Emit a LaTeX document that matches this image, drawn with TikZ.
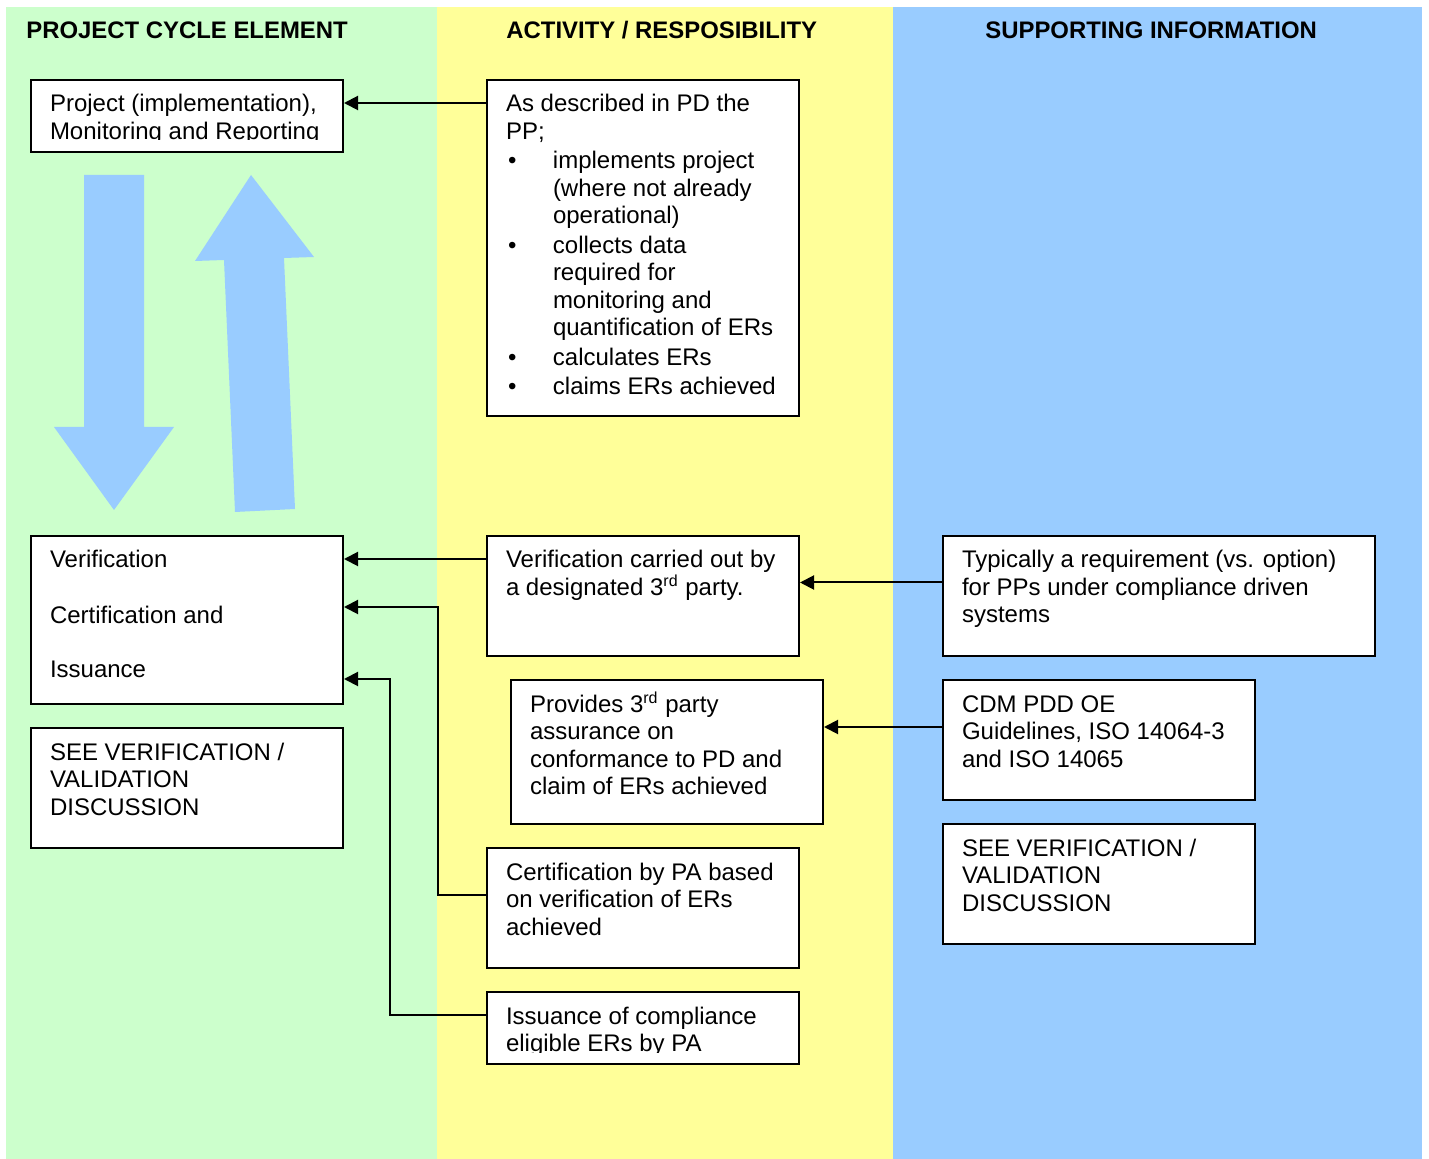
\documentclass[tikz,border=0pt]{standalone}
\usepackage{fontspec}
\setmainfont{Liberation Sans}
\usetikzlibrary{arrows.meta}
\definecolor{cgreen}{HTML}{CCFFCC}
\definecolor{cyellow}{HTML}{FFFF99}
\definecolor{cblue}{HTML}{99CCFF}
\newcommand\bulx{\makebox[23.5pt][l]{\hspace{1pt}\textbullet}}
\newcommand\indx{\hspace*{23.5pt}}
\newcommand\rdx{\smash{\textsuperscript{rd}}}
\begin{document}
\begin{tikzpicture}[x=0.5pt,y=-0.5pt,
 boxst/.style={draw, fill=white, line width=1pt, inner sep=0pt, anchor=north west},
 txt/.style={font=\fontsize{12pt}{13.75pt}\selectfont, align=left, anchor=north west, inner sep=0pt, outer sep=0pt},
 hdr/.style={font=\fontsize{11.95pt}{14pt}\selectfont\bfseries, anchor=base west, inner sep=0pt},
 conn/.style={line width=1pt, -{Triangle[length=7pt,width=7pt]}},
 bigarrow/.style={fill=cblue, draw=none}]
\useasboundingbox (0,0) rectangle (1429,1159);
\fill[cgreen] (6,7) rectangle (437,1159);
\fill[cyellow] (437,7) rectangle (893,1159);
\fill[cblue] (893,7) rectangle (1422,1159);
% headers
\node[hdr] (h1) at (26,39) {PROJECT CYCLE ELEMENT};
\node[hdr] (h2) at (506,39) {ACTIVITY / RESPOSIBILITY};
\node[hdr] (h3) at (985,39) {SUPPORTING INFORMATION};
% big arrows
\fill[bigarrow] (84,175) -- (144,175) -- (144,427) -- (174,427) -- (114,510) -- (54,427) -- (84,427) -- cycle;
\fill[bigarrow] (251,175) -- (314,257) -- (284,258) -- (295,509) -- (235,512) -- (224,260) -- (195,261) -- cycle;
% boxes
\node[boxst, minimum width=156pt, minimum height=36pt] (A) at (30,79) {};
\begin{scope}
\clip (30,79) rectangle (342,140);
\node[txt] (At) at (50,92.75) {\strut Project (implementation),\\Monitoring and Reporting};
\end{scope}
\node[boxst, minimum width=156pt, minimum height=168pt] (B) at (486,79) {};
\node[txt] (Bt) at (506,92.75) {\strut As described in PD the\\
PP;\\[1pt]
\bulx implements project\\
\indx (where not already\\
\indx operational)\\[1pt]
\bulx collects data\\
\indx required for\\
\indx monitoring and\\
\indx quantification of ERs\\[1pt]
\bulx calculates ERs\\[1pt]
\bulx claims ERs achieved};
\node[boxst, minimum width=156pt, minimum height=84pt] (C) at (30,535) {};
\node[txt] (Ct) at (50,548.75) {\strut Verification\\[13.75pt]Certification and\\[13.75pt]Issuance};
\node[boxst, minimum width=156pt, minimum height=60pt] (D) at (30,727) {};
\node[txt] (Dt) at (50,740.75) {\strut SEE VERIFICATION /\\VALIDATION\\DISCUSSION};
\node[boxst, minimum width=156pt, minimum height=60pt] (E) at (486,535) {};
\node[txt] (Et) at (506,548.75) {\strut Verification carried out by\\a designated 3\rdx{} party.};
\node[boxst, minimum width=156pt, minimum height=72pt] (F) at (510,679) {};
\node[txt] (Ft) at (530,692.75) {\strut Provides 3\rdx{} party\\assurance on\\conformance to PD and\\claim of ERs achieved};
\node[boxst, minimum width=156pt, minimum height=60pt] (G) at (486,847) {};
\node[txt] (Gt) at (506,860.75) {\strut Certification by PA based\\on verification of ERs\\achieved};
\node[boxst, minimum width=156pt, minimum height=36pt] (H) at (486,991) {};
\begin{scope}
\clip (486,991) rectangle (798,1052);
\node[txt] (Ht) at (506,1004.75) {\strut Issuance of compliance\\eligible ERs by PA};
\end{scope}
\node[boxst, minimum width=216pt, minimum height=60pt] (I) at (942,535) {};
\node[txt] (It) at (962,548.75) {\strut Typically a requirement (vs. option)\\for PPs under compliance driven\\systems};
\node[boxst, minimum width=156pt, minimum height=60pt] (J) at (942,679) {};
\node[txt] (Jt) at (962,692.75) {\strut CDM PDD OE\\Guidelines, ISO 14064-3\\and ISO 14065};
\node[boxst, minimum width=156pt, minimum height=60pt] (K) at (942,823) {};
\node[txt] (Kt) at (962,836.75) {\strut SEE VERIFICATION /\\VALIDATION\\DISCUSSION};
% connector levels
\coordinate (yA) at (0,103);
\coordinate (yC1) at (0,559);
\coordinate (g1) at (438,607);
\coordinate (yG) at (0,894.5);
\coordinate (h1c) at (390,679);
\coordinate (yH) at (0,1014.5);
\coordinate (yE) at (0,582.5);
\coordinate (yF) at (0,727);
% connectors
\draw[conn] (B.west |- yA) -- (A.east |- yA);
\draw[conn] (E.west |- yC1) -- (C.east |- yC1);
\draw[conn] (G.west |- yG) -| (g1) -- (C.east |- g1);
\draw[conn] (H.west |- yH) -| (h1c) -- (C.east |- h1c);
\draw[conn] (I.west |- yE) -- (E.east |- yE);
\draw[conn] (J.west |- yF) -- (F.east |- yF);
\end{tikzpicture}
\end{document}
